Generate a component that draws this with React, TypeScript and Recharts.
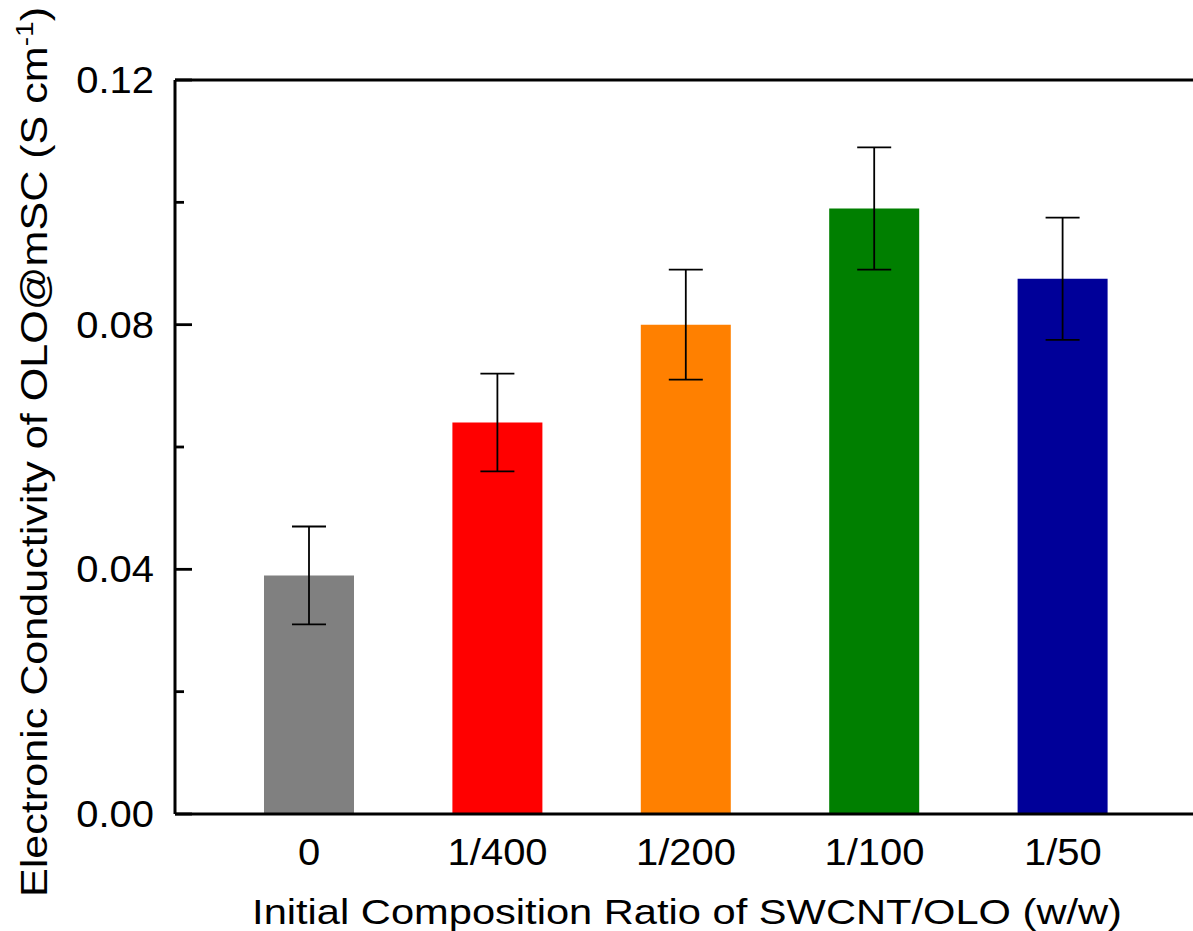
import React from 'react';
import { BarChart, Bar, XAxis, YAxis, ErrorBar, Cell, ReferenceLine } from 'recharts';

const categories = ['0', '1/400', '1/200', '1/100', '1/50'];
const conductivity = [0.039, 0.064, 0.080, 0.099, 0.0875];
const errors = [0.008, 0.008, 0.009, 0.010, 0.010];
const barColors = ['#808080', '#FF0000', '#FF8000', '#007F00', '#000099'];
const yTicks = [0, 0.02, 0.04, 0.06, 0.08, 0.1, 0.12];
const yMajorLabels: Record<string, string> = { '0': '0.00', '0.04': '0.04', '0.08': '0.08', '0.12': '0.12' };

const data = categories.map((c, i) => ({ name: c, value: conductivity[i], err: errors[i] }));

const FONT = 'Arial, "Liberation Sans", Helvetica, sans-serif';

const YTick = (props: any) => {
  const { x, y, payload } = props;
  const key = String(Math.round(payload.value * 100) / 100);
  const label = yMajorLabels[key];
  const major = label !== undefined;
  return (
    <g>
      <line x1={x} x2={x + (major ? 17 : 9)} y1={y} y2={y} stroke="#000" strokeWidth={2.8} />
      {major && (
        <text
          transform={`translate(${x - 21}, ${y + 13}) scale(1.08, 1)`}
          textAnchor="end"
          fontSize={37}
          fontFamily={FONT}
          fill="#000"
        >
          {label}
        </text>
      )}
    </g>
  );
};

const XTick = (props: any) => {
  const { x, y, payload } = props;
  return (
    <text
      transform={`translate(${x}, ${y + 51}) scale(1.08, 1)`}
      textAnchor="middle"
      fontSize={37}
      fontFamily={FONT}
      fill="#000"
    >
      {payload.value}
    </text>
  );
};

const YTitle = () => (
  <text
    transform="translate(47, 452) rotate(-90) scale(1.165, 1)"
    textAnchor="middle"
    fontSize={37}
    fontFamily={FONT}
    fill="#000"
  >
    Electronic Conductivity of OLO@mSC (S cm
    <tspan dy={-14} fontSize={24}>-1</tspan>
    <tspan dy={14}>)</tspan>
  </text>
);

const XTitle = () => (
  <text
    transform="translate(687, 924) scale(1.19, 1)"
    textAnchor="middle"
    fontSize={35}
    fontFamily={FONT}
    fill="#000"
  >
    Initial Composition Ratio of SWCNT/OLO (w/w)
  </text>
);

export default function App() {
  return (
    <div style={{ position: 'absolute', left: 0, top: 0, width: 1193, height: 931, overflow: 'hidden', background: '#fff' }}>
      <BarChart
        width={1210}
        height={931}
        data={data}
        margin={{ top: 80, right: 13, left: 0, bottom: 0 }}
      >
        <XAxis
          dataKey="name"
          height={117}
          padding={{ left: 40, right: 40 }}
          tickLine={false}
          tickSize={0}
          tickMargin={0}
          tick={<XTick />}
          axisLine={{ stroke: '#000', strokeWidth: 3 }}
          interval={0}
        />
        <YAxis
          width={175}
          domain={[0, 0.12]}
          ticks={yTicks}
          interval={0}
          tickLine={false}
          tickSize={0}
          tickMargin={0}
          tick={<YTick />}
          axisLine={{ stroke: '#000', strokeWidth: 3 }}
        />
        <ReferenceLine y={0.12} stroke="#000" strokeWidth={3} />
        <Bar dataKey="value" barSize={90} isAnimationActive={false}>
          {data.map((d, i) => (
            <Cell key={d.name} fill={barColors[i]} />
          ))}
          <ErrorBar dataKey="err" width={17} stroke="#000" strokeWidth={1.8} />
        </Bar>
      </BarChart>
      <svg width={1193} height={931} style={{ position: 'absolute', left: 0, top: 0, pointerEvents: 'none' }}>
        <YTitle />
        <XTitle />
      </svg>
    </div>
  );
}
